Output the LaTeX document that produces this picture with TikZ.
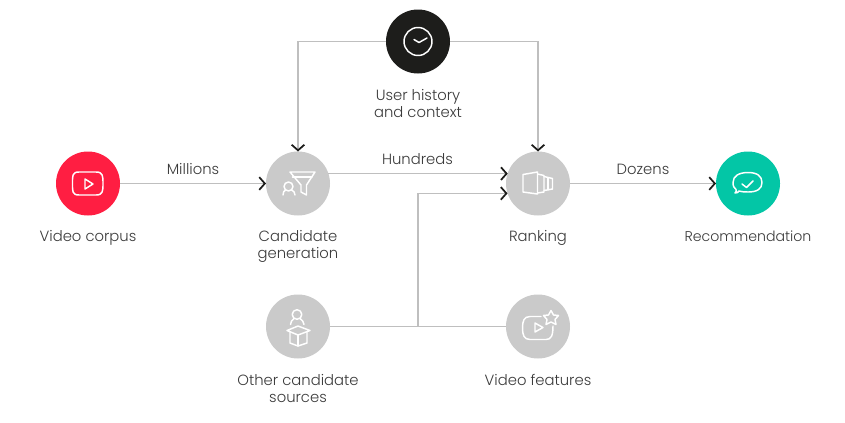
\documentclass[tikz,border=0pt]{standalone}
\usepackage{fontspec}
\setmainfont{Poppins}[UprightFont=* Light]
\usetikzlibrary{arrows.meta,calc}
\definecolor{cred}{HTML}{FF1E42}
\definecolor{cgreen}{HTML}{03C6A6}
\definecolor{cdark}{HTML}{1D1D1B}
\definecolor{cgray}{HTML}{CACACA}
\definecolor{cline}{HTML}{BFBFBF}
\definecolor{ctext}{HTML}{3A3A3A}
\tikzset{
  x=0.75pt,y=-0.75pt,
  stage/.style={circle,minimum size=48pt,inner sep=0pt,outer sep=0pt,fill=#1},
  lab/.style={font=\fontsize{11.1pt}{12.75pt}\selectfont,text=ctext,align=center,inner sep=0pt},
  conn/.style={draw=cline,line width=1.1pt},
  flow/.style={conn,-{Straight Barb[color=cdark,length=4.2pt,width=9.5pt,line width=1.3pt]}},
  icon/.style={draw=white,line width=1.1pt,line join=round,line cap=round},
}
\begin{document}
\begin{tikzpicture}
\useasboundingbox (0,0) rectangle (845,422);
\node[stage=cred] (video) at (88,183.5) {};
\node[stage=cgray] (cand) at (298,183.5) {};
\node[stage=cgray] (rank) at (538,183.5) {};
\node[stage=cgreen] (rec) at (748,183.5) {};
\node[stage=cdark] (user) at (418,41.5) {};
\node[stage=cgray] (other) at (298,326.5) {};
\node[stage=cgray] (feat) at (538,326.5) {};
\node[lab] (lvideo) at (88,238) {Video corpus};
\node[lab] (lcand) at (298,246) {Candidate\\generation};
\node[lab] (lrank) at (538,238) {Ranking};
\node[lab,font=\fontsize{10.6pt}{12.75pt}\selectfont] (lrec) at (748,236) {Recommendation};
\node[lab] (luser) at (418,103) {User history\\and context};
\node[lab] (lother) at (298,388) {Other candidate\\sources};
\node[lab] (lfeat) at (538,380) {Video features};
\node[lab] (mill) at (193,169) {Millions};
\node[lab] (hund) at (417.5,159) {Hundreds};
\node[lab] (doz) at (643,169) {Dozens};
\coordinate (k) at (418,326.5);
\coordinate (j) at (k |- rank.198.2);
\draw[conn] (other) -- (feat);
\draw[flow] (k) -- (j) -- (rank.198.2);
\draw[flow] (video) -- (cand);
\draw[flow] (cand.18.2) -- (cand.18.2 -| rank.161.8);
\draw[flow] (rank) -- (rec);
\draw[flow] (user) -| (cand);
\draw[flow] (user) -| (rank);
% video corpus icon
\draw[icon] (79,172) .. controls (72,172) and (72.5,176) .. (72.5,183.5) .. controls (72.5,191) and (72,195) .. (79,195) -- (96,195) .. controls (103,195) and (103,191) .. (103,183.5) .. controls (103,176) and (103,172) .. (96,172) -- cycle;
\draw[icon] (85,179) -- (85,189) -- (93,184) -- cycle;
% funnel and person
\draw[icon] (290,172) -- (315,172) -- (306.5,185) -- (306.5,195) -- (301,192) -- (301,185) -- cycle;
\draw[icon] (292.5,177) -- (312,177);
\draw[icon] (288.5,186.5) circle (4.5);
\draw[icon] (283,195) .. controls (283,192) and (284,191) .. (285.5,190);
\draw[icon] (295,195) .. controls (295,192) and (293.5,191) .. (291.5,190);
% ranking panels
\draw[icon] (523,174.5) -- (537.5,172) -- (537.5,194) -- (523,192) -- cycle;
\draw[icon] (537.5,174) -- (544,175.5) -- (544,192) -- (537.5,193);
\draw[icon] (544,176.5) -- (552.5,178.5) -- (552.5,189) -- (544,190.5);
\draw[icon] (548,177.5) -- (548,189.8);
% recommendation bubble
\draw[icon] (735,193) .. controls (737,193) and (738,192.5) .. (739,191) .. controls (743,192) and (745,192) .. (748,192) .. controls (757,192) and (762,189) .. (762,182.5) .. controls (762,176) and (757,172.5) .. (748,172.5) .. controls (739,172.5) and (733,176) .. (733,182.5) .. controls (733,186) and (734,188) .. (736,189.5) .. controls (736.5,191) and (736,192) .. (735,193) -- cycle;
\draw[icon] (742,184) -- (746.5,187.5) -- (753,181);
% clock
\draw[icon] (418,41.5) circle (14);
\draw[icon] (414,39.5) -- (419,42.5) -- (427,38);
% other candidate sources
\draw[icon] (297,314.5) circle (4.8);
\draw[icon] (290.5,324.5) .. controls (290.5,322) and (292,320) .. (294,318.5);
\draw[icon] (304,324.5) .. controls (304,322) and (302,320) .. (300,318.5);
\draw[icon] (298,326) -- (287,330.5) -- (298,335) -- (310,330.5) -- cycle;
\draw[icon] (290,332) -- (290,343) -- (298,346) -- (307,343) -- (307,332);
\draw[icon] (298,335) -- (298,346);
% video features
\draw[icon] (541,316.5) -- (530,316.5) .. controls (524,316.5) and (522.5,321) .. (522.5,328) .. controls (522.5,335) and (524,339.5) .. (530,339.5) -- (546,339.5) .. controls (551,339.5) and (553,336) .. (553,326);
\draw[icon] (535,323) -- (535,332) -- (543,327.5) -- cycle;
\draw[icon] (551,310.5) -- (553.5,315) -- (558.5,315.5) -- (555,319.5) -- (556,324.5) -- (551,322) -- (546,324.5) -- (547,319.5) -- (543.5,315.5) -- (548.5,315) -- cycle;
\end{tikzpicture}
\end{document}
